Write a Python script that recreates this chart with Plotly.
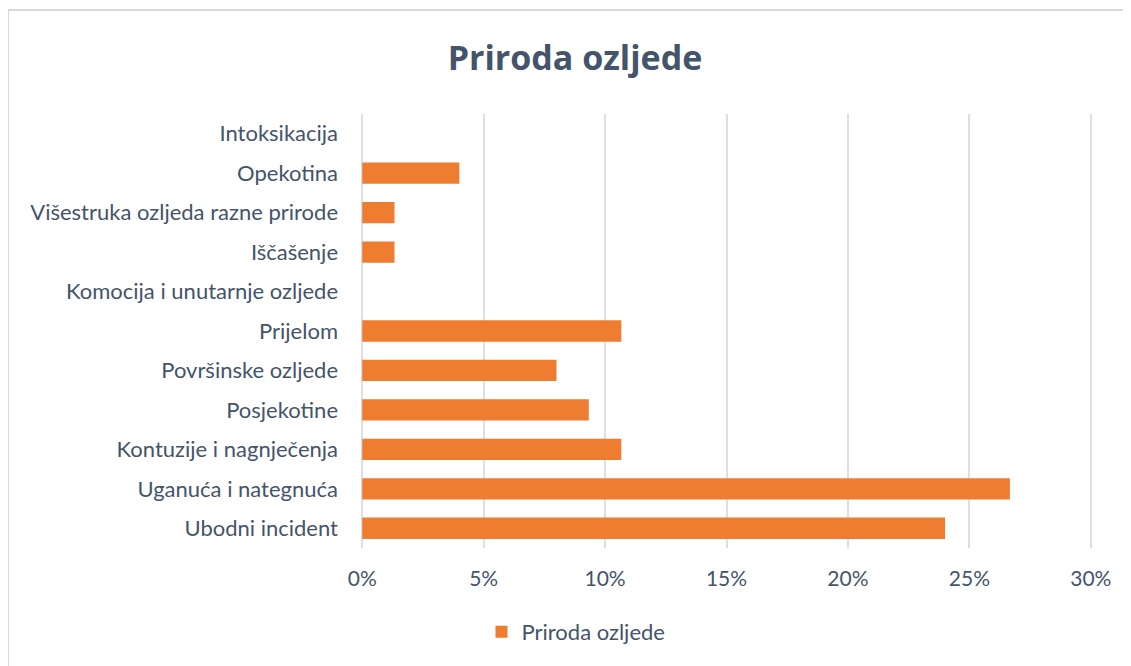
import plotly.graph_objects as go

categories = [
    "Ubodni incident",
    "Uganuća i nategnuća",
    "Kontuzije i nagnječenja",
    "Posjekotine",
    "Površinske ozljede",
    "Prijelom",
    "Komocija i unutarnje ozljede",
    "Iščašenje",
    "Višestruka ozljeda razne prirode",
    "Opekotina",
    "Intoksikacija",
]
values = [0.24, 0.2667, 0.1067, 0.0933, 0.08, 0.1067, 0.0, 0.0133, 0.0133, 0.04, 0.0]
series_name = "Priroda ozljede"
x_ticks = [0, 0.05, 0.10, 0.15, 0.20, 0.25, 0.30]
x_tick_labels = ["0%", "5%", "10%", "15%", "20%", "25%", "30%"]

# page is offset by the 8px body margin
W, H = 1123, 658
ml, mr, mt, mb = 353, 39, 106, 118
pw = W - ml - mr
ph = H - mt - mb

text_color = "#44546A"
fig = go.Figure()
fig.add_trace(go.Bar(
    y=categories, x=values, orientation="h", name=series_name,
    marker=dict(color="#EF7D31", line=dict(width=0)),
    width=0.54, showlegend=True,
))

fig.update_layout(
    width=W, height=H,
    margin=dict(l=ml, r=mr, t=mt, b=mb, pad=0),
    paper_bgcolor="white", plot_bgcolor="white",
    title=dict(text="<b>Priroda ozljede</b>", x=567 / W, xanchor="center",
               y=1 - 50 / H, yanchor="middle",
               font=dict(family="Open Sans", size=34, color=text_color)),
    font=dict(family="Lato", color=text_color),
    xaxis=dict(range=[-0.0005, 0.3005], tickvals=x_ticks, ticktext=x_tick_labels,
               showgrid=True, gridcolor="#DCDFE5", gridwidth=2,
               zeroline=False, showline=False, ticks="",
               tickfont=dict(size=21, color=text_color), ticklabelstandoff=16,
               fixedrange=True),
    yaxis=dict(categoryorder="array", categoryarray=categories,
               range=[-0.5, len(categories) - 0.5],
               showgrid=False, zeroline=False, showline=False, ticks="",
               tickfont=dict(size=22, color=text_color), ticklabelstandoff=22,
               fixedrange=True),
    legend=dict(orientation="h", x=(576 - 8 - ml) / pw, xanchor="center",
                y=-(624 - (mt + ph)) / ph, yanchor="middle",
                font=dict(size=22, color=text_color), itemwidth=30),
    bargap=0.46,
)

# outer frame (top and left edges visible)
fx0 = (0 - ml) / pw
fy_top = 1 + (mt - 2) / ph
fig.add_shape(type="line", xref="paper", yref="paper",
              x0=fx0, x1=(W - ml) / pw + 0.01, y0=fy_top, y1=fy_top,
              line=dict(color="#D9D9D9", width=2))
fig.add_shape(type="line", xref="paper", yref="paper",
              x0=fx0, x1=fx0, y0=fy_top, y1=-(H - mt - ph) / ph - 0.01,
              line=dict(color="#D9D9D9", width=2))

fig.write_html("out.html")
